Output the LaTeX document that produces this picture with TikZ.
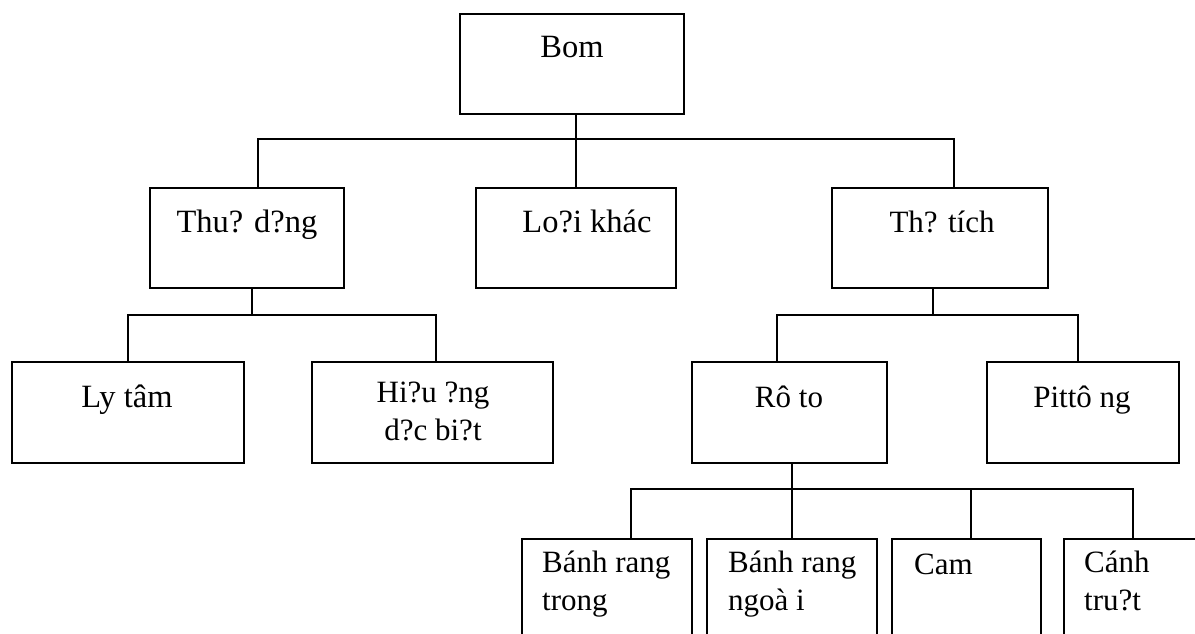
\documentclass[tikz,border=0pt]{standalone}
\usepackage{fontspec}
\setmainfont{Liberation Serif}
\begin{document}
\begin{tikzpicture}[x=1pt,y=-1pt,
  box/.style={draw, line width=1.7pt, inner sep=0pt, rectangle},
  lbl/.style={inner sep=0pt, font=\fontsize{31}{38}\selectfont},
  big/.style={font=\fontsize{32.5}{38}\selectfont},
  con/.style={line width=1.7pt}]
\useasboundingbox (0,0) rectangle (1195,633);
% level 0
\node[box, minimum width=224pt, minimum height=100pt] (bom) at (572,64) {};
% level 1
\node[box, minimum width=194pt, minimum height=100pt] (thu) at (247,238) {};
\node[box, minimum width=200pt, minimum height=100pt] (loai) at (576,238) {};
\node[box, minimum width=216pt, minimum height=100pt] (tt) at (940,238) {};
% level 2
\node[box, minimum width=232pt, minimum height=101pt] (ly) at (128,412.5) {};
\node[box, minimum width=241pt, minimum height=101pt] (hieu) at (432.5,412.5) {};
\node[box, minimum width=195pt, minimum height=101pt] (roto) at (789.5,412.5) {};
\node[box, minimum width=192pt, minimum height=101pt] (pit) at (1083,412.5) {};
% level 3
\node[box, minimum width=170pt, minimum height=121pt] (b1) at (607,599.5) {};
\node[box, minimum width=170pt, minimum height=121pt] (b2) at (792,599.5) {};
\node[box, minimum width=149pt, minimum height=121pt] (b3) at (966.5,599.5) {};
\node[box, minimum width=138pt, minimum height=121pt] (b4) at (1133,599.5) {};
% labels
\node[lbl, big, anchor=base] (tbom) at (572,57) {Bom};
\node[lbl, big, anchor=base] (tthu) at (247,232) {Thu? d?ng};
\node[lbl, big, anchor=base] (tloai) at (587,232) {Lo?i khác};
\node[lbl, anchor=base] (ttt) at (942,232) {Th? tích};
\node[lbl, big, anchor=base] (tly) at (127,407) {Ly tâm};
\node[lbl, anchor=north, align=center] (thieu) at (433,382) {Hi?u ?ng\\d?c bi?t};
\node[lbl, anchor=base] (troto) at (789,407) {Rô to};
\node[lbl, anchor=base] (tpit) at (1082,407) {Pittô ng};
\node[lbl, anchor=north west, align=left] (tb1) at (542,550.5) {Bánh rang\\trong};
\node[lbl, anchor=north west, align=left] (tb2) at (728,550.5) {Bánh rang\\ngoà i};
\node[lbl, anchor=base west] (tb3) at (914,574) {Cam};
\node[lbl, anchor=north west, align=left] (tb4) at (1084,550.5) {Cánh\\tru?t};
% connectors
\draw[con] ([xshift=4pt]bom.south) -- ++(0,24) coordinate (j1);
\draw[con] ([xshift=11pt]thu.north) |- (j1) -| ([xshift=14pt]tt.north);
\draw[con] (j1) -- (loai.north);
\draw[con] ([xshift=5pt]thu.south) -- ++(0,26) coordinate (j2);
\draw[con] (ly.north) |- (j2) -| ([xshift=3.5pt]hieu.north);
\draw[con] ([xshift=-7pt]tt.south) -- ++(0,26) coordinate (j3);
\draw[con] ([xshift=-12.5pt]roto.north) |- (j3) -| ([xshift=-5pt]pit.north);
\draw[con] ([xshift=2.5pt]roto.south) -- ++(0,25) coordinate (j4);
\draw[con] ([xshift=24pt]b1.north) |- (j4) -| (b4.north);
\draw[con] (j4) -- (b2.north);
\draw[con] ([xshift=4.5pt]b3.north) -- ([xshift=4.5pt]b3.north |- j4);
\end{tikzpicture}
\end{document}
